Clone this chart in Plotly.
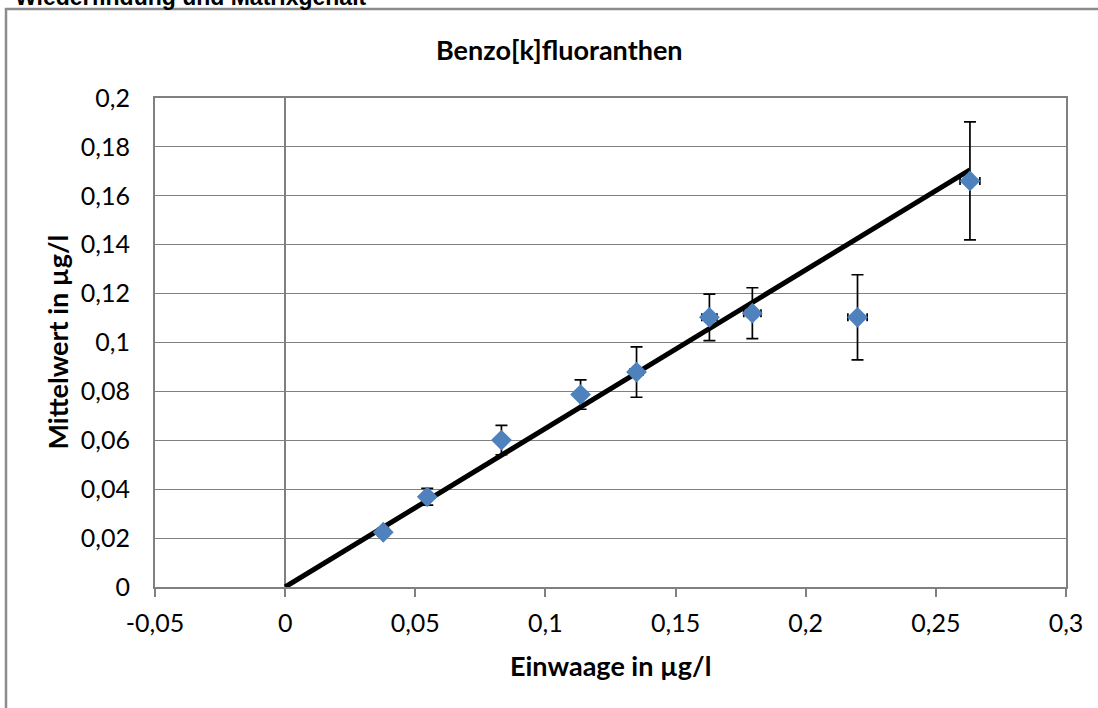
import plotly.graph_objects as go

# Data
einwaage = [0.0377, 0.0546, 0.0831, 0.1135, 0.1350, 0.1630, 0.1795, 0.2199, 0.2631]
mittelwert = [0.0224, 0.0369, 0.0601, 0.0787, 0.0879, 0.1103, 0.1120, 0.1103, 0.1661]
err_y = [0.0016, 0.0034, 0.0060, 0.0060, 0.0103, 0.0095, 0.0104, 0.0174, 0.0241]
err_x = [0.0008, 0.0012, 0.0016, 0.0020, 0.0024, 0.0029, 0.0033, 0.0037, 0.0038]

trend_x = [0.0, 0.2631]
trend_y = [0.0, 0.1706]

x_tickvals = [-0.05, 0, 0.05, 0.1, 0.15, 0.2, 0.25, 0.3]
x_ticktext = ["-0,05", "0", "0,05", "0,1", "0,15", "0,2", "0,25", "0,3"]
y_tickvals = [0, 0.02, 0.04, 0.06, 0.08, 0.1, 0.12, 0.14, 0.16, 0.18, 0.2]
y_ticktext = ["0", "0,02", "0,04", "0,06", "0,08", "0,1", "0,12", "0,14", "0,16", "0,18", "0,2"]

title_text = "Benzo[k]fluoranthen"
x_title = "Einwaage in µg/l"
y_title = "Mittelwert in µg/l"
top_text = "Wiederfindung und Matrixgehalt"

GRID = "#808080"
FONT = "Lato, 'Open Sans', sans-serif"
TICK_SIZE = 25
TITLE_SIZE = 27

W, H = 1098, 708
ML, MR, MT, MB = 155, 32, 98, 121
PW = W - ML - MR
PH = H - MT - MB


def px_x(p):
    return (p - ML) / PW


def px_y(p):
    return 1 - (p - MT) / PH


fig = go.Figure()

fig.add_trace(go.Scatter(
    x=trend_x, y=trend_y, mode="lines",
    line=dict(color="black", width=5),
    hoverinfo="skip", showlegend=False,
))

fig.add_trace(go.Scatter(
    x=einwaage, y=mittelwert, mode="markers",
    marker=dict(symbol="diamond", size=16, color="#4F81BD", line=dict(width=0)),
    error_y=dict(type="data", array=err_y, visible=True, color="black", thickness=1.7, width=6),
    error_x=dict(type="data", array=err_x, visible=True, color="black", thickness=1.7, width=4),
    showlegend=False,
))

fig.update_layout(
    width=W, height=H,
    margin=dict(l=ML, r=MR, t=MT, b=MB, autoexpand=False),
    paper_bgcolor="white", plot_bgcolor="white",
    font=dict(family=FONT, size=TICK_SIZE, color="black"),
    showlegend=False,
    xaxis=dict(
        range=[-0.05, 0.3], tickvals=x_tickvals, ticktext=x_ticktext,
        showgrid=False, zeroline=True, zerolinecolor=GRID, zerolinewidth=1.5,
        showline=True, mirror=True, linecolor=GRID, linewidth=2,
        ticks="outside", ticklen=8, tickcolor=GRID, tickwidth=1.5,
        ticklabelstandoff=5,
        tickfont=dict(family=FONT, size=TICK_SIZE, color="black"),
        automargin=False,
    ),
    yaxis=dict(
        range=[0, 0.2], tickvals=y_tickvals, ticktext=y_ticktext,
        showgrid=True, gridcolor=GRID, gridwidth=1.4, zeroline=False,
        showline=True, mirror=True, linecolor=GRID, linewidth=2,
        ticks="", ticklabelstandoff=18,
        tickfont=dict(family=FONT, size=TICK_SIZE, color="black"),
        automargin=False,
    ),
    shapes=[dict(
        type="rect", xref="paper", yref="paper",
        x0=px_x(6), x1=px_x(1110), y0=px_y(9), y1=px_y(720),
        line=dict(color="#8c8c8c", width=2.5), fillcolor="rgba(0,0,0,0)", layer="below",
    )],
    annotations=[
        dict(text="<b>" + title_text + "</b>", xref="paper", yref="paper",
             x=px_x(559), y=px_y(50), xanchor="center", yanchor="middle",
             showarrow=False, font=dict(family=FONT, size=TITLE_SIZE, color="black")),
        dict(text="<b>" + x_title + "</b>", xref="paper", yref="paper",
             x=0.5, y=px_y(665), xanchor="center", yanchor="middle",
             showarrow=False, font=dict(family=FONT, size=TITLE_SIZE, color="black")),
        dict(text="<b>" + y_title + "</b>", xref="paper", yref="paper",
             x=px_x(57), y=0.5, xanchor="center", yanchor="middle", textangle=-90,
             showarrow=False, font=dict(family=FONT, size=TITLE_SIZE, color="black")),
        dict(text="<b>" + top_text + "</b>", xref="paper", yref="paper",
             x=px_x(13), y=px_y(-3), xanchor="left", yanchor="middle",
             showarrow=False, font=dict(family="'Liberation Sans', Arial, sans-serif", size=23, color="black")),
    ],
)

fig.write_html(
    "out.html",
    config={"displayModeBar": False},
    post_script="document.body.style.margin='0';document.body.style.overflow='hidden';",
)
